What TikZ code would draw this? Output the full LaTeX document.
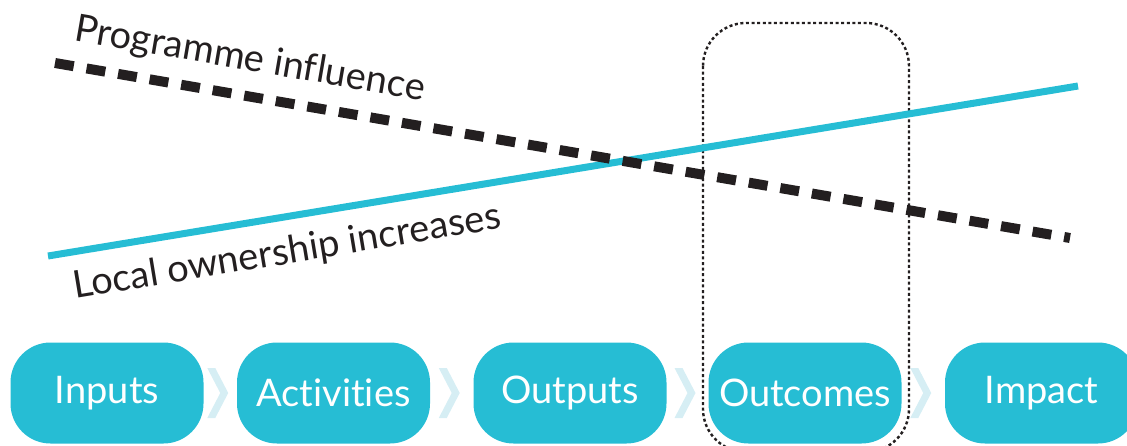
\documentclass[tikz,border=0pt]{standalone}
\usepackage{fontspec}
\setmainfont{Lato}[Ligatures={NoCommon}]
\usetikzlibrary{calc}
\definecolor{tealbox}{HTML}{26BDD4}
\definecolor{inkblack}{HTML}{231F20}
\definecolor{chevcol}{HTML}{D6EEF4}
\tikzset{
  stagebox/.style={fill=tealbox, text=white, rounded corners=40pt, minimum width=193pt, minimum height=101pt, inner sep=0pt, font=\fontsize{38}{40}\selectfont},
  toplabel/.style={text=inkblack, inner sep=0pt, font=\fontsize{38}{40}\selectfont},
  influence/.style={draw=inkblack, line width=10pt, dash pattern=on 19pt off 13pt, line cap=butt},
  ownership/.style={draw=tealbox, line width=7pt, line cap=butt},
  focusbox/.style={draw=inkblack, line width=2.4pt, dash pattern=on 3pt off 2.6pt, rounded corners=43pt},
  chevron/.style={fill=chevcol, draw=none}
}
\begin{document}
\begin{tikzpicture}[x=1pt,y=-1pt]
\useasboundingbox (0,0) rectangle (1127,445);
\clip (0,0) rectangle (1127,445);
% stages
\node[stagebox] (inputs) at (107,393) {Inputs};
\node[stagebox] (activities) at (333.5,393) {Activities};
\node[stagebox] (outputs) at (570,393) {Outputs};
\node[stagebox] (outcomes) at (805,393) {Outcomes};
\node[stagebox] (impact) at (1041.5,393) {Impact};
% chevrons between stages
\foreach \a/\b in {inputs/activities, activities/outputs, outputs/outcomes, outcomes/impact}{
  \coordinate (g) at ($(\a.east)!0.5!(\b.west)$);
  \fill[chevron] ($(g)+(-13,-25)$) -- ($(g)+(-5,-25)$) -- ($(g)+(8,0)$) -- ($(g)+(-5,25)$) -- ($(g)+(-13,25)$) -- ($(g)+(0,0)$) -- cycle;
}
% focus box around outcomes
\draw[focusbox] (703,23) rectangle (909,452);
% lines
\coordinate (pi-start) at (55,63);
\coordinate (pi-end) at (1070,238);
\coordinate (lo-start) at (48,256);
\coordinate (lo-end) at (1078,86);
\draw[ownership] (lo-start) -- (lo-end);
\draw[influence] (pi-start) -- (pi-end);
% labels
\node[toplabel, rotate=-9.8] (pilabel) at (250,60) {Programme influence};
\node[toplabel, rotate=9.4] (lolabel) at (287,253) {Local ownership increases};
\end{tikzpicture}
\end{document}
